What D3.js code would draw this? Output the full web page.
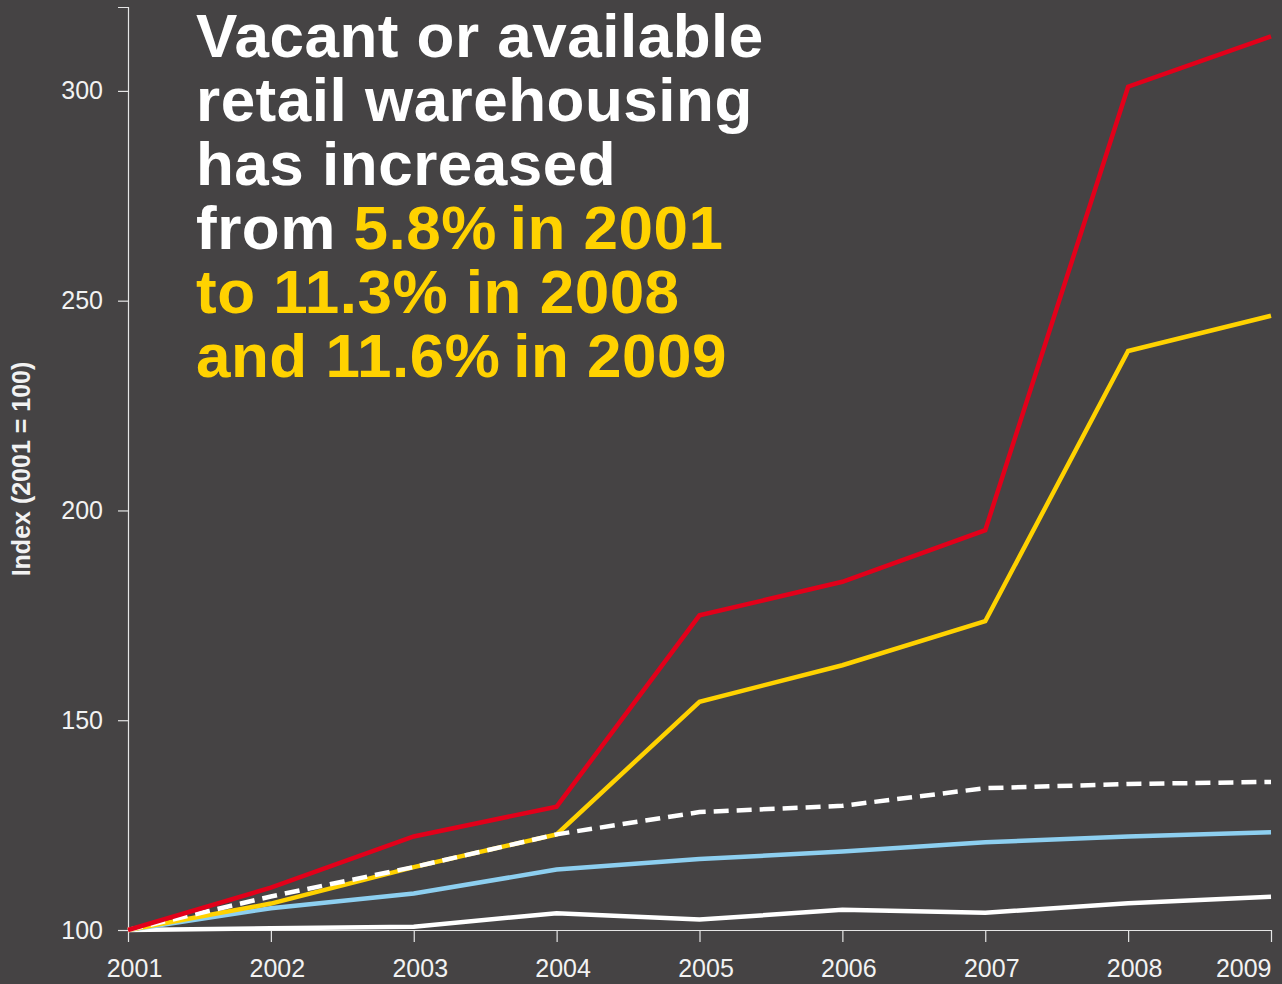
<!DOCTYPE html>
<html>
<head>
<meta charset="utf-8">
<script src="https://cdn.jsdelivr.net/npm/d3@7"></script>
<style>
  html, body { margin: 0; padding: 0; background: #454344; }
  svg { display: block; }
  .axis path, .axis line { stroke: #e6e6e6; stroke-width: 1.2; }
  .axis text { fill: #f2f2f2; font-family: "Liberation Sans", Arial, sans-serif; font-size: 25px; }
</style>
</head>
<body>
<svg width="1282" height="984"></svg>
<script>
  // values (index, 2001 = 100)
  const years = [2001, 2002, 2003, 2004, 2005, 2006, 2007, 2008, 2009];
  const redSeries    = [100, 110.1, 122.3, 129.4, 175.0, 183.0, 195.3, 301.0, 313.0];
  const yellowSeries = [100, 106.3, 115.0, 122.8, 154.4, 163.1, 173.6, 238.0, 246.4];
  const dashedSeries = [100, 108.0, 115.0, 122.8, 128.1, 129.6, 133.8, 134.8, 135.3];
  const blueSeries   = [100, 105.2, 108.7, 114.4, 116.9, 118.7, 120.9, 122.3, 123.3];
  const whiteSeries  = [100, 100.4, 100.8, 104.0, 102.5, 104.8, 104.1, 106.4, 107.9];
  const yTicks = [100, 150, 200, 250, 300];

  const titleLines = [
    [["Vacant or available", "#fff"]],
    [["retail warehousing", "#fff"]],
    [["has increased", "#fff"]],
    [["from ", "#fff"], ["5.8%\u2009in 2001", "#ffd200"]],
    [["to 11.3% in 2008", "#ffd200"]],
    [["and 11.6%\u2009in 2009", "#ffd200"]]
  ];

  const svg = d3.select("svg");
  const m = { left: 128, right: 1271, top: 7, bottom: 930 };

  const x = d3.scaleLinear().domain([2001, 2009]).range([m.left, m.right]);
  const y = d3.scaleLinear().domain([100, 320]).range([m.bottom, m.top]);

  // axes
  svg.append("g")
      .attr("class", "axis")
      .attr("transform", `translate(${m.left},0)`)
      .call(d3.axisLeft(y).tickValues(yTicks).tickSize(10).tickSizeOuter(10).tickPadding(15));

  const xAxis = svg.append("g")
      .attr("class", "axis")
      .attr("transform", `translate(0,${m.bottom})`)
      .call(d3.axisBottom(x).tickValues(years).tickFormat(d3.format("d"))
        .tickSize(12).tickSizeOuter(0).tickPadding(17));
  xAxis.selectAll(".tick text")
      .attr("dx", (d, i) => i === years.length - 1 ? 0 : 6)
      .attr("text-anchor", (d, i) => i === years.length - 1 ? "end" : "middle");

  svg.append("text")
      .attr("transform", "translate(30,469) rotate(-90)")
      .attr("text-anchor", "middle")
      .attr("fill", "#f2f2f2")
      .style("font-family", "'Liberation Sans', Arial, sans-serif")
      .style("font-weight", "bold")
      .style("font-size", "25px")
      .text("Index (2001 = 100)");

  // lines
  const line = d3.line()
      .x((d, i) => x(years[i]))
      .y(d => y(d));

  const series = [
    { values: whiteSeries,  color: "#ffffff", dash: null },
    { values: blueSeries,   color: "#8dcff0", dash: null },
    { values: yellowSeries, color: "#ffd200", dash: null },
    { values: dashedSeries, color: "#ffffff", dash: "15,8" },
    { values: redSeries,    color: "#e2001a", dash: null }
  ];

  svg.append("g").selectAll("path")
    .data(series)
    .enter().append("path")
      .attr("d", d => line(d.values))
      .attr("fill", "none")
      .attr("stroke", d => d.color)
      .attr("stroke-width", 4.5)
      .attr("stroke-dasharray", d => d.dash);

  // headline
  const title = svg.append("text")
      .attr("x", 196)
      .attr("y", 57)
      .style("font-family", "'Liberation Sans', Arial, sans-serif")
      .style("font-weight", "bold")
      .style("font-size", "62px")
      .style("letter-spacing", "0.5px");

  titleLines.forEach((parts, i) => {
    parts.forEach((p, j) => {
      const t = title.append("tspan").attr("fill", p[1]).text(p[0]);
      if (j === 0) t.attr("x", 196).attr("y", 57 + i * 64);
    });
  });
</script>
</body>
</html>
